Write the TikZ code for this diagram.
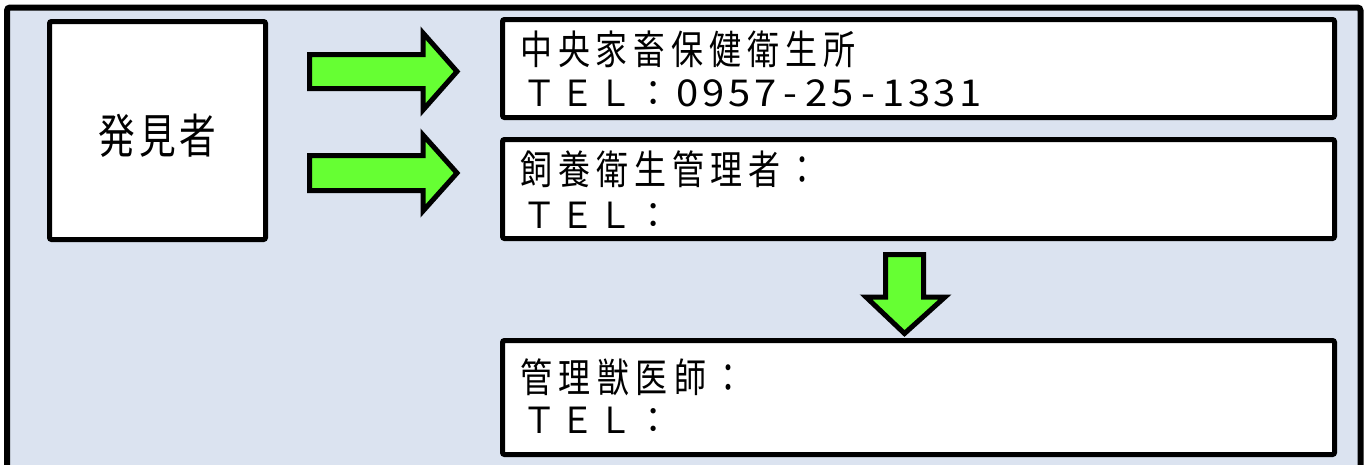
\documentclass[tikz,border=0pt]{standalone}
\usepackage{fontspec}
\usepackage{graphicx}
\setmainfont{Noto Sans CJK JP}
\definecolor{bgblue}{HTML}{DBE3F0}
\definecolor{arrowgreen}{HTML}{66FF33}
\newcommand\cellrow[3]{\def\cellw{#1}\def\cellsx{#2}\cellrowi#3\relax}
\def\cellrowi#1{\ifx#1\relax\else\makebox[\cellw][c]{\scalebox{\cellsx}[1]{#1}}\expandafter\cellrowi\fi}
\newcommand\digitsize{\fontsize{37}{42}\selectfont}
\newcommand\telsize{\fontsize{36}{42}\selectfont}
\begin{document}
\begin{tikzpicture}[x=1pt,y=-1pt,
  box/.style={draw=black, fill=white, line width=5pt, rounded corners=2pt, inner sep=0pt},
  blockarrow/.style={draw=black, fill=arrowgreen, line width=5pt, miter limit=10},
  txt/.style={anchor=base west, inner sep=0pt, font=\fontsize{40}{46}\selectfont},
  teltxt/.style={anchor=base west, inner sep=0pt, font=\telsize},
  bigtxt/.style={anchor=base, inner sep=0pt, font=\fontsize{47}{52}\selectfont}]
\useasboundingbox (0,0) rectangle (1368,464);
\fill[white] (0,0) rectangle (1368,464);
% outer frame
\draw[line width=6pt, fill=bgblue, rounded corners=3pt] (7,7.5) rectangle (1360.5,490);
% boxes
\node[box, minimum width=216pt, minimum height=218pt] (finder) at (157.5,130.5) {};
\node[box, minimum width=832pt, minimum height=98pt] (b1) at (918.5,68.5) {};
\node[box, minimum width=832pt, minimum height=99pt] (b2) at (918.5,189) {};
\node[box, minimum width=832pt, minimum height=114pt] (b3) at (918.5,397.5) {};
% texts
\node[bigtxt] (tf) at (157.5,153) {\cellrow{40.5pt}{0.78}{発見者}};
\node[txt] (t1a) at (517,64) {\cellrow{37.9pt}{0.8}{中央家畜保健衛生所}};
\node[teltxt] (t1b) at (520,106) {\cellrow{38pt}{0.95}{ＴＥＬ：}\hspace{3pt}{\digitsize\cellrow{25.7pt}{1.08}{0957-25-1331}}};
\node[txt] (t2a) at (517,184) {\cellrow{38pt}{0.8}{飼養衛生管理者：}};
\node[teltxt] (t2b) at (520,228) {\cellrow{38pt}{0.95}{ＴＥＬ：}};
\node[txt] (t3a) at (517,392) {\cellrow{38.4pt}{0.8}{管理獣医師：}};
\node[teltxt] (t3b) at (520,433) {\cellrow{38pt}{0.95}{ＴＥＬ：}};
% block arrows
\draw[blockarrow] (309.5,54.5) -- (423,54.5) -- (423,33) -- (457,71.5) -- (423,110) -- (423,88.5) -- (309.5,88.5) -- cycle;
\draw[blockarrow] (309.5,155.5) -- (423,155.5) -- (423,135) -- (457,173) -- (423,211) -- (423,190.5) -- (309.5,190.5) -- cycle;
\draw[blockarrow] (885.5,254.5) -- (923.5,254.5) -- (923.5,297) -- (945,297) -- (904.5,333.5) -- (866,297) -- (885.5,297) -- cycle;
\end{tikzpicture}
\end{document}
